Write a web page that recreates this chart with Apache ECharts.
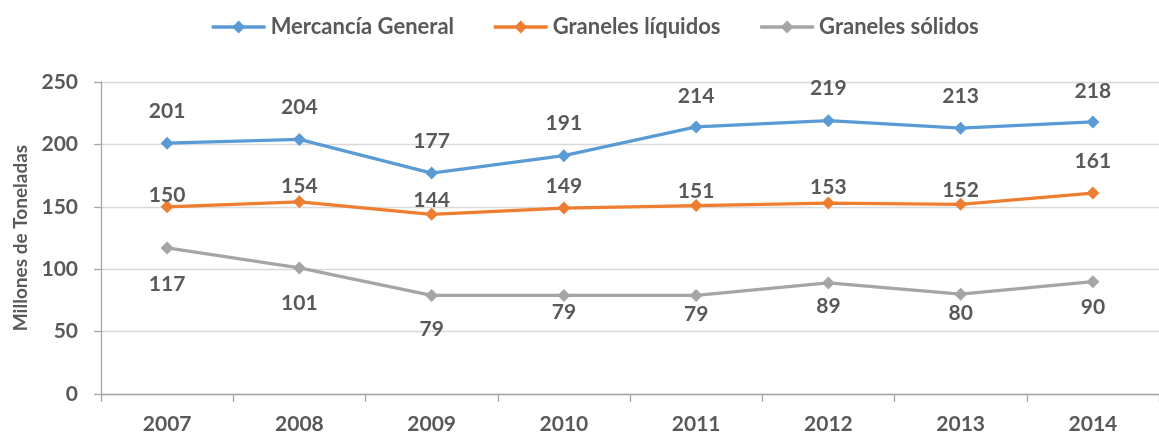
<!DOCTYPE html>
<html>
<head>
<meta charset="utf-8">
<script src="https://cdn.jsdelivr.net/npm/echarts@6/dist/echarts.min.js"></script>
<style>
  html, body { margin: 0; padding: 0; background: #fff; }
  #chart { width: 1159px; height: 435px; }
</style>
</head>
<body>
<div id="chart"></div>
<script>
// ---- Data ----
const years = ['2007', '2008', '2009', '2010', '2011', '2012', '2013', '2014'];
const mercanciaGeneral = [201, 204, 177, 191, 214, 219, 213, 218];
const granelesLiquidos = [150, 154, 144, 149, 151, 153, 152, 161];
const granelesSolidos = [117, 101, 79, 79, 79, 89, 80, 90];
const yTicks = [0, 50, 100, 150, 200, 250];

// ---- Label placement (vertical offset of each value label from its point, px) ----
const dyMercancia = [-32, -32, -32, -32, -31, -32, -32, -31];
const dyLiquidos = [-12, -16, -14, -22, -14, -16, -14, -32];
const dySolidos = [36, 35, 34, 17, 19, 23, 19, 26];

const FONT = 'Lato';
const TXT = '#595959';
const FS = 21;

function buildData(values, dys) {
  return values.map((v, i) => ({
    value: v,
    label: { offset: [0, dys[i]] }
  }));
}

function makeSeries(name, color, values, dys) {
  return {
    name: name,
    type: 'line',
    data: buildData(values, dys),
    symbol: 'diamond',
    symbolSize: 13,
    lineStyle: { color: color, width: 3.3 },
    itemStyle: { color: color },
    label: {
      show: true,
      position: 'inside',
      color: TXT,
      fontFamily: FONT,
      fontWeight: 'bold',
      fontSize: FS
    },
    emphasis: { disabled: true },
    animation: false
  };
}

const chart = echarts.init(document.getElementById('chart'), null, { renderer: 'canvas' });
chart.setOption({
  animation: false,
  backgroundColor: '#ffffff',
  legend: {
    top: 11,
    left: 205,
    itemWidth: 54,
    itemHeight: 16,
    itemGap: 38,
    lineStyle: { width: 3.3 },
    textStyle: { color: TXT, fontFamily: FONT, fontWeight: 'bold', fontSize: 22 },
    data: ['Mercancía General', 'Graneles líquidos', 'Graneles sólidos']
  },
  grid: { left: 101, right: -7, top: 82, bottom: 40, containLabel: false },
  xAxis: {
    type: 'category',
    data: years,
    boundaryGap: true,
    axisLine: { show: true, lineStyle: { color: '#a6a6a6', width: 1.3 } },
    axisTick: { show: true, length: 8, lineStyle: { color: '#a6a6a6', width: 1.3 } },
    axisLabel: { color: TXT, fontFamily: FONT, fontWeight: 'bold', fontSize: FS, margin: 20 },
    splitLine: { show: false }
  },
  yAxis: {
    type: 'value',
    min: yTicks[0],
    max: yTicks[yTicks.length - 1],
    interval: yTicks[1] - yTicks[0],
    name: 'Millones de Toneladas',
    nameLocation: 'middle',
    nameGap: 70,
    nameTextStyle: { color: TXT, fontFamily: FONT, fontWeight: 'bold', fontSize: 19 },
    axisLine: { show: true, lineStyle: { color: '#a6a6a6', width: 1.3 } },
    axisTick: { show: true, length: 7, lineStyle: { color: '#a6a6a6', width: 1.3 } },
    axisLabel: { color: TXT, fontFamily: FONT, fontWeight: 'bold', fontSize: FS, margin: 23 },
    splitLine: { show: true, lineStyle: { color: '#d9d9d9', width: 1.3 } }
  },
  series: [
    makeSeries('Mercancía General', '#5B9BD5', mercanciaGeneral, dyMercancia),
    makeSeries('Graneles líquidos', '#ED7D31', granelesLiquidos, dyLiquidos),
    makeSeries('Graneles sólidos', '#A5A5A5', granelesSolidos, dySolidos)
  ]
});
</script>
</body>
</html>
